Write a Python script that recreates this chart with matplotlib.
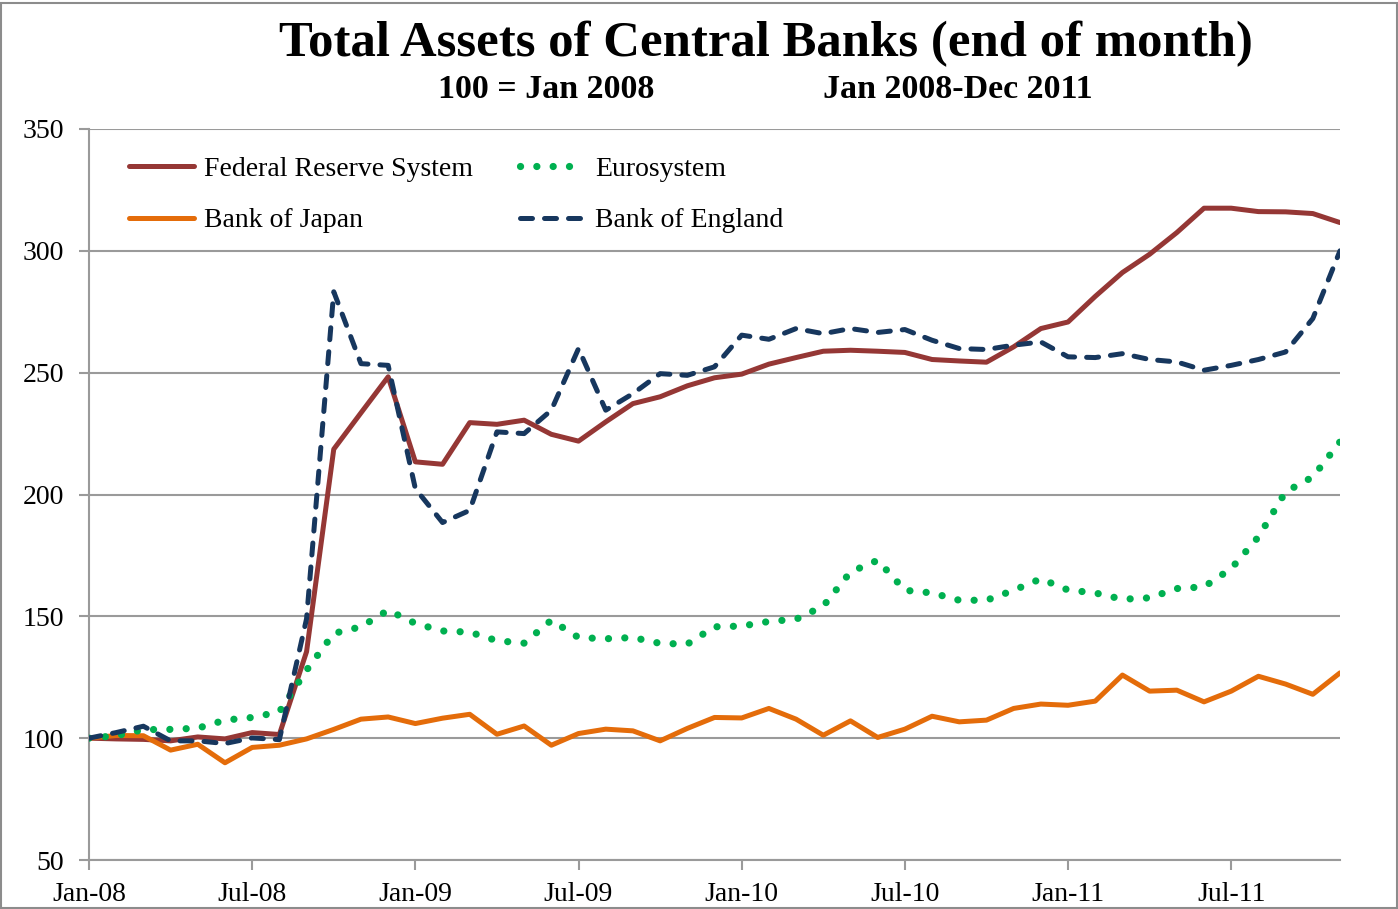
import matplotlib
matplotlib.use("Agg")
import matplotlib.pyplot as plt
from matplotlib.patches import Rectangle

# ---- data (index, 100 = Jan 2008), monthly Jan-08 .. Nov-11 ----
months = list(range(47))
tick_positions = [0, 6, 12, 18, 24, 30, 36, 42]
tick_labels = ["Jan-08", "Jul-08", "Jan-09", "Jul-09", "Jan-10", "Jul-10", "Jan-11", "Jul-11"]

fed = [100, 99.7, 99.5, 98.9, 100.5, 99.7, 102.3, 101.5, 135.5, 218.6, 233.5, 248.3,
       213.4, 212.4, 229.5, 228.8, 230.5, 224.7, 221.9, 229.8, 237.3, 240.1, 244.6, 247.9,
       249.4, 253.5, 256.2, 258.8, 259.2, 258.8, 258.3, 255.4, 254.8, 254.3, 260.6, 268.1,
       270.8, 281.3, 291.1, 298.6, 307.5, 317.5, 317.5, 316.1, 316.0, 315.3, 311.6]

euro = [100, 101.0, 103.5, 103.6, 104.1, 107.4, 108.5, 110.8, 127.9, 143.0, 145.7, 152.5,
        147.1, 144.0, 143.5, 140.0, 139.0, 148.4, 141.3, 140.8, 141.3, 138.9, 138.6, 145.7,
        146.0, 147.9, 148.8, 154.2, 168.2, 173.0, 160.7, 159.6, 156.6, 156.6, 160.7, 165.4,
        160.8, 159.6, 157.0, 157.6, 161.4, 162.1, 169.6, 182.6, 201.1, 207.2, 221.6]

boj = [100, 101.1, 101.0, 95.1, 97.5, 89.9, 96.2, 97.1, 99.7, 103.6, 107.8, 108.7,
       106.0, 108.2, 109.8, 101.6, 105.0, 97.1, 101.9, 103.7, 103.0, 98.9, 104.0, 108.5,
       108.3, 112.2, 107.8, 101.2, 107.1, 100.3, 103.7, 109.0, 106.7, 107.4, 112.2, 114.0,
       113.5, 115.2, 125.9, 119.3, 119.7, 114.9, 119.3, 125.4, 122.2, 118.0, 126.8]

boe = [100, 102.3, 104.9, 98.9, 98.9, 97.8, 100.1, 99.4, 149.0, 283.2, 253.7, 253.0,
       202.4, 188.5, 193.5, 225.7, 225.0, 234.6, 259.9, 234.6, 241.4, 249.6, 248.9, 252.4,
       265.4, 263.7, 268.1, 266.0, 268.1, 266.5, 267.7, 263.3, 259.9, 259.5, 261.3, 262.6,
       256.5, 256.2, 257.8, 255.4, 254.4, 251.0, 253.0, 255.4, 258.5, 272.2, 300.0]

series_names = ["Federal Reserve System", "Bank of Japan", "Eurosystem", "Bank of England"]

# ---- styling ----
FONT = "Liberation Serif"
plt.rcParams["font.family"] = FONT
C_FED = "#953735"
C_BOJ = "#E46C0A"
C_EURO = "#00B050"
C_BOE = "#17375E"
GRID = "#9A9A9A"

fig = plt.figure(figsize=(13.98, 9.09), dpi=100)
ax = fig.add_axes([89 / 1398, 1 - 860 / 909, (1340 - 89) / 1398, (860 - 129) / 909])

ax.plot(months, fed, color=C_FED, lw=3.6, solid_capstyle="round", solid_joinstyle="round",
        label=series_names[0], zorder=3)
ax.plot(months, boj, color=C_BOJ, lw=3.6, solid_capstyle="round", solid_joinstyle="round",
        label=series_names[1], zorder=3)
ax.plot(months, euro, color=C_EURO, lw=5.2, linestyle=(0, (0.01, 2.25)),
        dash_capstyle="round", label=series_names[2], zorder=3)
ax.plot(months, boe, color=C_BOE, lw=3.6, linestyle=(0, (2.4, 2.4)),
        dash_capstyle="round", dash_joinstyle="round", label=series_names[3], zorder=4)

ax.set_xlim(0, 46)
ax.set_ylim(50, 350)
ax.set_yticks(range(50, 351, 50))
ax.set_xticks(tick_positions)
ax.set_xticklabels(tick_labels)
ax.yaxis.grid(True, color=GRID, lw=1.5)
ax.set_axisbelow(True)
for s in ["top", "right"]:
    ax.spines[s].set_visible(False)
ax.spines["left"].set_color(GRID)
ax.spines["left"].set_linewidth(1.5)
ax.spines["bottom"].set_color(GRID)
ax.spines["bottom"].set_linewidth(1.5)
ax.tick_params(axis="x", direction="out", length=7, width=1.5, color=GRID,
               labelsize=20, pad=9)
ax.tick_params(axis="y", direction="out", length=7, width=1.5, color=GRID,
               labelsize=20, pad=11)

leg = ax.legend(ncol=2, loc="upper left", bbox_to_anchor=(0.0116, 0.997), frameon=False,
                fontsize=20, handlelength=2.35, handletextpad=0.35, columnspacing=1.71,
                labelspacing=0.95)

fig.text(766 / 1398, 1 - 44 / 909, "Total Assets of Central Banks (end of month)",
         ha="center", va="center", fontsize=36.5, fontweight="bold")
fig.text(546 / 1398, 1 - 90 / 909, "100 = Jan 2008", ha="center", va="center",
         fontsize=24.5, fontweight="bold")
fig.text(958 / 1398, 1 - 90 / 909, "Jan 2008-Dec 2011", ha="center", va="center",
         fontsize=24.5, fontweight="bold")

fig.patches.append(Rectangle((0.001, 0.001), 0.998, 0.996, transform=fig.transFigure,
                             fill=False, edgecolor="#8C8C8C", lw=1.5))

fig.savefig("out.png", dpi=100)
